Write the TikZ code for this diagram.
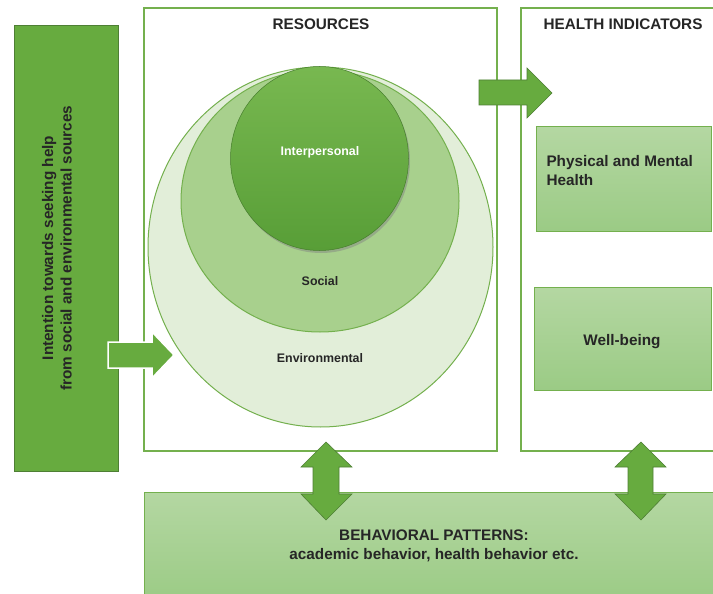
\documentclass[tikz,border=0pt]{standalone}
\usepackage{fontspec}
\setmainfont{Liberation Sans}
\usetikzlibrary{shapes.geometric,shadows}

\definecolor{leafdark}{HTML}{67AB3F}
\definecolor{leafedge}{HTML}{4E7F34}
\definecolor{lineg}{HTML}{74B04E}
\definecolor{paletop}{HTML}{B4D7A2}
\definecolor{palebot}{HTML}{9BCB85}
\definecolor{envfill}{HTML}{E2EED9}
\definecolor{socfill}{HTML}{A8D08D}
\definecolor{intertop}{HTML}{78B850}
\definecolor{interbot}{HTML}{589E37}
\definecolor{ink}{HTML}{262626}

\tikzset{
  panel/.style={draw=lineg, line width=1.1pt, fill=white},
  palebox/.style={draw=lineg, line width=1pt, top color=paletop, bottom color=palebot},
  blockarrow/.style={fill=leafdark, draw=leafedge, line width=0.6pt},
  big/.style={font=\fontsize{15.3}{18.5}\selectfont\bfseries, text=ink},
  small/.style={font=\fontsize{12.4}{15}\selectfont\bfseries, text=ink},
  ring/.style={ellipse, inner sep=0pt, draw=lineg, line width=1pt}
}

\begin{document}
\begin{tikzpicture}[x=1pt, y=-1pt]
\useasboundingbox (0,0) rectangle (713,594);
\clip (0,0) rectangle (713,594);

% intention column
\node[draw=leafedge, line width=0.9pt, fill=leafdark, minimum width=104pt, minimum height=446pt, inner sep=0pt] (intent) at (66,248) {};
\node[big, rotate=90, align=center] (intenttxt) at (57,248)
  {Intention towards seeking help\\from social and environmental sources};

% resources and health panels
\node[panel, minimum width=353pt, minimum height=443pt, inner sep=0pt] (res) at (320.5,229.5) {};
\node[panel, minimum width=200pt, minimum height=443pt, inner sep=0pt] (health) at (621,229.5) {};
\node[big] (restitle) at (321,24) {RESOURCES};
\node[big] (healthtitle) at (623,24) {HEALTH INDICATORS};

% behavioural patterns band
\node[palebox, minimum width=580pt, minimum height=110pt, inner sep=0pt] (behav) at (434,547) {};
\node[big, align=center] (behavtxt) at (434,546)
  {BEHAVIORAL PATTERNS:\\academic behavior, health behavior etc.};

% nested resource circles
\node[ring, fill=envfill, minimum width=345pt, minimum height=360pt] (env) at (320.5,247) {};
\node[ring, fill=socfill, minimum width=278pt, minimum height=262pt] (soc) at (320,201) {};
\node[ellipse, inner sep=0pt, draw=interbot!80!black, line width=0.5pt,
      top color=intertop, bottom color=interbot, minimum width=178pt, minimum height=184pt,
      drop shadow={shadow xshift=1.5pt, shadow yshift=-2.5pt, opacity=0.45}] (inter) at (319.5,158.5) {};
\node[small, text=white] (intertxt) at (320,152.5) {Interpersonal};
\node[small] (soctxt) at (320,281) {Social};
\node[small] (envtxt) at (320,358) {Environmental};

% health indicator boxes
\node[palebox, minimum width=175pt, minimum height=104pt, inner sep=0pt] (phys) at (623.5,179) {};
\node[big, align=left, anchor=north west] (phystxt) at (543,152) {Physical and Mental\\Health};
\node[palebox, minimum width=177pt, minimum height=103pt, inner sep=0pt] (well) at (622.5,338.5) {};
\node[big] (welltxt) at (622,342) {Well-being};

% block arrows
\draw[blockarrow, draw=white, line width=1.5pt]
  (108,342) -- (152,342) -- (152,332) -- (174,355) -- (152,378) -- (152,368) -- (108,368) -- cycle;
\draw[blockarrow]
  (479,80) -- (527,80) -- (527,68) -- (552,93) -- (527,118) -- (527,105) -- (479,105) -- cycle;
\draw[blockarrow]
  (326,442) -- (352,467) -- (339,467) -- (339,494) -- (352,494) -- (326,520)
  -- (301,494) -- (313,494) -- (313,467) -- (301,467) -- cycle;
\draw[blockarrow]
  (641,442) -- (666,467) -- (653,467) -- (653,494) -- (666,494) -- (641,520)
  -- (615,494) -- (628,494) -- (628,467) -- (615,467) -- cycle;
\end{tikzpicture}
\end{document}
